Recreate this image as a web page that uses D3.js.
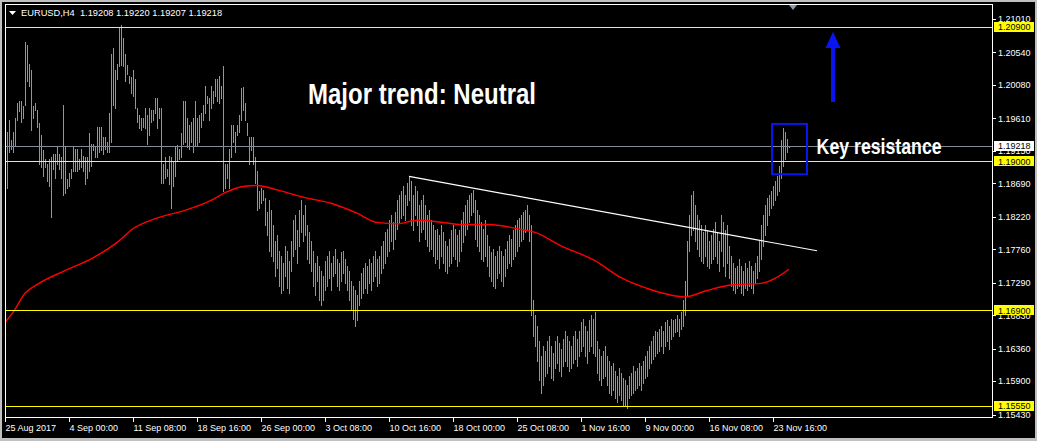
<!DOCTYPE html>
<html><head><meta charset="utf-8">
<script src="https://cdn.jsdelivr.net/npm/d3@7"></script>
<style>
html,body{margin:0;padding:0;background:#c0c0c0;}
svg{display:block;}
text{font-family:"Liberation Sans",Arial,sans-serif;}
</style></head><body>
<svg id="chart" width="1037" height="441"></svg>
<script>
// ---------------- data ----------------
const titleText = "EURUSD,H4  1.19208 1.19220 1.19207 1.19218";
const highs = [
1.1886,1.1941,1.1958,1.1930,1.1941,1.1962,1.1983,1.1985,1.1986,1.1978,
1.2069,1.2065,1.2037,1.2029,1.1978,1.1983,1.1973,1.1954,1.1937,1.1916,
1.1903,1.1897,1.1903,1.1906,1.1911,1.1911,1.1920,1.1911,1.1906,1.1979,
1.1920,1.1875,1.1884,1.1890,1.1920,1.1918,1.1918,1.1904,1.1917,1.1908,
1.1907,1.1906,1.1940,1.1925,1.1924,1.1920,1.1948,1.1948,1.1949,1.1934,
1.1934,1.1927,1.1969,1.2051,1.2060,1.2029,1.2037,1.2089,1.2092,1.2074,
1.2051,1.2036,1.2021,1.2019,1.2029,1.2017,1.1976,1.1965,1.1962,1.1962,
1.1976,1.1965,1.1975,1.1973,1.1972,1.1990,1.1990,1.1976,1.1975,1.1897,
1.1906,1.1890,1.1908,1.1906,1.1899,1.1921,1.1923,1.1918,1.1940,1.1986,
1.1986,1.1961,1.1951,1.1955,1.1962,1.1986,1.1962,1.1965,1.1968,1.1979,
1.2006,1.1993,1.1990,1.2007,1.2000,1.2017,1.2017,1.2021,1.2007,1.2034,
1.1897,1.1896,1.1918,1.1951,1.1951,1.1941,1.1951,1.1965,1.2003,1.2005,
1.1983,1.1954,1.1934,1.1935,1.1934,1.1906,1.1887,1.1859,1.1862,1.1860,
1.1849,1.1828,1.1845,1.1831,1.1810,1.1788,1.1796,1.1774,1.1767,1.1757,
1.1781,1.1774,1.1760,1.1788,1.1817,1.1824,1.1803,1.1831,1.1845,1.1824,
1.1838,1.1810,1.1800,1.1788,1.1774,1.1757,1.1767,1.1753,1.1746,1.1739,
1.1760,1.1767,1.1774,1.1757,1.1767,1.1777,1.1763,1.1757,1.1772,1.1774,
1.1763,1.1753,1.1746,1.1732,1.1725,1.1718,1.1711,1.1732,1.1743,1.1749,
1.1757,1.1753,1.1763,1.1757,1.1767,1.1774,1.1763,1.1767,1.1781,1.1788,
1.1800,1.1805,1.1817,1.1824,1.1814,1.1828,1.1845,1.1852,1.1859,1.1866,
1.1852,1.1870,1.1879,1.1873,1.1852,1.1866,1.1859,1.1838,1.1845,1.1852,
1.1838,1.1824,1.1831,1.1817,1.1810,1.1803,1.1805,1.1796,1.1810,1.1800,
1.1788,1.1781,1.1791,1.1803,1.1810,1.1805,1.1796,1.1803,1.1817,1.1828,
1.1838,1.1845,1.1852,1.1856,1.1860,1.1845,1.1831,1.1824,1.1814,1.1805,
1.1817,1.1796,1.1781,1.1772,1.1777,1.1767,1.1774,1.1781,1.1774,1.1767,
1.1777,1.1788,1.1796,1.1791,1.1803,1.1810,1.1817,1.1820,1.1824,1.1828,
1.1831,1.1838,1.1824,1.1810,1.1704,1.1683,1.1668,1.1647,1.1626,1.1640,
1.1633,1.1647,1.1654,1.1640,1.1630,1.1647,1.1654,1.1644,1.1636,1.1650,
1.1661,1.1654,1.1647,1.1640,1.1654,1.1661,1.1650,1.1661,1.1673,1.1678,
1.1668,1.1661,1.1676,1.1683,1.1678,1.1688,1.1647,1.1636,1.1626,1.1633,
1.1640,1.1626,1.1619,1.1612,1.1616,1.1605,1.1598,1.1608,1.1602,1.1594,
1.1591,1.1584,1.1598,1.1602,1.1612,1.1605,1.1608,1.1616,1.1612,1.1619,
1.1626,1.1633,1.1640,1.1647,1.1654,1.1661,1.1659,1.1664,1.1668,1.1661,
1.1673,1.1676,1.1668,1.1678,1.1676,1.1678,1.1683,1.1678,1.1687,1.1704,
1.1732,1.1788,1.1824,1.1852,1.1859,1.1838,1.1824,1.1817,1.1810,1.1800,
1.1810,1.1803,1.1788,1.1796,1.1805,1.1814,1.1800,1.1788,1.1824,1.1814,
1.1803,1.1810,1.1781,1.1767,1.1757,1.1749,1.1753,1.1763,1.1753,1.1746,
1.1757,1.1749,1.1760,1.1753,1.1746,1.1757,1.1767,1.1788,1.1810,1.1824,
1.1838,1.1848,1.1852,1.1859,1.1866,1.1873,1.1880,1.1894,1.1930,1.1947,
1.1941,1.1932,1.19220
];
const lows = [
1.1781,1.1862,1.1914,1.1918,1.1914,1.1923,1.1958,1.1971,1.1955,1.1962,
1.1979,1.2014,1.2007,1.1945,1.1962,1.1972,1.1948,1.1897,1.1892,1.1880,
1.1892,1.1872,1.1865,1.1821,1.1890,1.1877,1.1897,1.1890,1.1876,1.1853,
1.1855,1.1862,1.1865,1.1876,1.1887,1.1887,1.1886,1.1890,1.1892,1.1887,
1.1868,1.1876,1.1887,1.1894,1.1916,1.1906,1.1907,1.1913,1.1916,1.1911,
1.1918,1.1913,1.1913,1.1927,1.1979,1.1975,1.2017,1.2034,1.2036,1.2034,
1.2014,1.2024,1.2010,1.1997,1.1993,1.1976,1.1955,1.1947,1.1945,1.1948,
1.1947,1.1925,1.1937,1.1955,1.1958,1.1969,1.1947,1.1962,1.1870,1.1870,
1.1877,1.1879,1.1868,1.1835,1.1866,1.1880,1.1901,1.1904,1.1906,1.1925,
1.1927,1.1920,1.1918,1.1927,1.1913,1.1923,1.1923,1.1927,1.1948,1.1958,
1.1968,1.1982,1.1958,1.1976,1.1983,1.1993,1.1986,1.1982,1.1990,1.1859,
1.1863,1.1876,1.1863,1.1906,1.1927,1.1913,1.1937,1.1941,1.1958,1.1972,
1.1958,1.1937,1.1897,1.1916,1.1897,1.1869,1.1831,1.1835,1.1842,1.1845,
1.1810,1.1796,1.1774,1.1767,1.1760,1.1739,1.1749,1.1725,1.1715,1.1718,
1.1739,1.1721,1.1715,1.1746,1.1767,1.1777,1.1757,1.1781,1.1800,1.1788,
1.1796,1.1763,1.1757,1.1746,1.1725,1.1711,1.1732,1.1704,1.1697,1.1704,
1.1718,1.1725,1.1735,1.1718,1.1739,1.1743,1.1725,1.1718,1.1732,1.1743,
1.1729,1.1718,1.1704,1.1690,1.1678,1.1668,1.1676,1.1697,1.1707,1.1715,
1.1721,1.1715,1.1729,1.1718,1.1732,1.1739,1.1725,1.1729,1.1743,1.1749,
1.1757,1.1767,1.1774,1.1788,1.1777,1.1791,1.1805,1.1814,1.1820,1.1824,
1.1817,1.1838,1.1845,1.1810,1.1803,1.1824,1.1810,1.1788,1.1800,1.1805,
1.1791,1.1781,1.1774,1.1777,1.1767,1.1757,1.1763,1.1749,1.1767,1.1757,
1.1746,1.1743,1.1753,1.1757,1.1767,1.1763,1.1753,1.1760,1.1774,1.1786,
1.1796,1.1805,1.1814,1.1824,1.1828,1.1791,1.1781,1.1774,1.1763,1.1760,
1.1767,1.1753,1.1739,1.1732,1.1725,1.1722,1.1735,1.1743,1.1732,1.1725,
1.1739,1.1749,1.1757,1.1753,1.1763,1.1767,1.1774,1.1781,1.1788,1.1791,
1.1800,1.1803,1.1788,1.1683,1.1654,1.1640,1.1619,1.1591,1.1573,1.1584,
1.1598,1.1602,1.1612,1.1594,1.1591,1.1608,1.1616,1.1605,1.1598,1.1612,
1.1619,1.1612,1.1605,1.1608,1.1616,1.1622,1.1612,1.1625,1.1633,1.1640,
1.1626,1.1616,1.1633,1.1640,1.1630,1.1626,1.1602,1.1591,1.1584,1.1594,
1.1598,1.1584,1.1574,1.1570,1.1577,1.1566,1.1560,1.1570,1.1563,1.1556,
1.1557,1.1552,1.1566,1.1570,1.1574,1.1577,1.1580,1.1584,1.1577,1.1588,
1.1594,1.1598,1.1608,1.1616,1.1622,1.1626,1.1630,1.1633,1.1640,1.1630,
1.1640,1.1647,1.1636,1.1650,1.1654,1.1659,1.1661,1.1654,1.1664,1.1668,
1.1683,1.1711,1.1774,1.1796,1.1803,1.1788,1.1777,1.1767,1.1760,1.1757,
1.1767,1.1753,1.1749,1.1757,1.1763,1.1767,1.1757,1.1746,1.1774,1.1753,
1.1739,1.1757,1.1735,1.1725,1.1718,1.1714,1.1721,1.1725,1.1715,1.1711,
1.1721,1.1718,1.1725,1.1721,1.1715,1.1729,1.1735,1.1746,1.1763,1.1781,
1.1796,1.1810,1.1824,1.1834,1.1838,1.1845,1.1852,1.1859,1.1876,1.1894,
1.1904,1.1913,1.19207
];
// moving average: [bar index, value]
const maBar   = [0,4,10,17,30,44,57,63,77,90,103,110,120,126,136,150,163,176,186,196,206,216,229,242,258,265,278,295,308,321,340,351,364,378,392];
const maValue = [1.1673,1.1687,1.1714,1.1728,1.1746,1.1764,1.1788,1.1803,1.1821,1.1831,1.1845,1.1856,1.1865,1.1866,1.1860,1.1849,1.1841,1.1827,1.1814,1.1812,1.1817,1.1815,1.1811,1.1811,1.1804,1.1800,1.1781,1.1760,1.1736,1.1721,1.1709,1.1718,1.1726,1.1728,1.1748];
const priceTicks = [1.21010,1.20540,1.20080,1.19610,1.19150,1.18690,1.18220,1.17760,1.17290,1.16830,1.16360,1.15900,1.15430];
const levelPrices = [1.20900,1.19000,1.16900,1.15550];
const bidPrice = 1.19218;
const timeTickBars = [0,32,64,96,128,160,192,224,256,288,320,352,384];
const timeTickLabels = ["25 Aug 2017","4 Sep 00:00","11 Sep 08:00","18 Sep 16:00","26 Sep 00:00","3 Oct 08:00","10 Oct 16:00","18 Oct 00:00","25 Oct 08:00","1 Nov 16:00","9 Nov 00:00","16 Nov 08:00","23 Nov 16:00"];
const trendBars = [202,406];
const trendPrices = [1.1879,1.1774];
const boxBars = [383.5,401];
const boxPrices = [1.1953,1.1882];
const arrowBar = 414;
const arrowPrices = [1.1984,1.2060,1.2083]; // tail, head base, tip
const headline = "Major trend: Neutral";
const keyText = "Key resistance";

// ---------------- drawing ----------------
const W = 1037, H = 441;
const svg = d3.select("#chart");
const x = d3.scaleLinear().domain([0, 493.5]).range([5, 992]);
const y = d3.scaleLinear().domain([1.15430, 1.21010]).range([414.5, 19]);
const px = v => Math.round(v) + 0.5;

svg.append("rect").attr("width", W).attr("height", H).attr("fill", "#c0c0c0");
svg.append("rect").attr("x", 2).attr("y", 2).attr("width", 1033).attr("height", 436).attr("fill", "#000");

// bars
const bars = d3.range(highs.length).map(i => ({i, h: highs[i], l: lows[i]}));
svg.append("g").attr("shape-rendering", "crispEdges")
  .selectAll("line").data(bars).join("line")
  .attr("x1", d => px(x(d.i))).attr("x2", d => px(x(d.i)))
  .attr("y1", d => Math.round(y(d.h))).attr("y2", d => Math.round(y(d.l)) + 1)
  .attr("stroke", "#28e614").attr("stroke-width", 1);

// moving average
const maData = maBar.map((b, k) => [b, maValue[k]]);
svg.append("path").datum(maData)
  .attr("d", d3.line().x(d => x(d[0])).y(d => y(d[1])).curve(d3.curveMonotoneX))
  .attr("fill", "none").attr("stroke", "#ff0000").attr("stroke-width", 1.4);

// horizontal levels
svg.append("g").attr("shape-rendering", "crispEdges")
  .selectAll("line").data(levelPrices).join("line")
  .attr("x1", 5).attr("x2", 992)
  .attr("y1", d => px(y(d))).attr("y2", d => px(y(d)))
  .attr("stroke", "#ffff00").attr("stroke-width", 1);
// bid line
svg.append("line").attr("shape-rendering", "crispEdges")
  .attr("x1", 5).attr("x2", 992).attr("y1", px(y(bidPrice))).attr("y2", px(y(bidPrice)))
  .attr("stroke", "#7f8c99").attr("stroke-width", 1);

// trend line
svg.append("line")
  .attr("x1", x(trendBars[0])).attr("y1", y(trendPrices[0]))
  .attr("x2", x(trendBars[1])).attr("y2", y(trendPrices[1]))
  .attr("stroke", "#ffffff").attr("stroke-width", 1.2);

// resistance box
svg.append("rect")
  .attr("x", x(boxBars[0])).attr("y", y(boxPrices[0]))
  .attr("width", x(boxBars[1]) - x(boxBars[0])).attr("height", y(boxPrices[1]) - y(boxPrices[0]))
  .attr("fill", "none").attr("stroke", "#0a14f0").attr("stroke-width", 2);

// arrow
const ax = x(arrowBar);
svg.append("line").attr("x1", ax).attr("x2", ax)
  .attr("y1", y(arrowPrices[0])).attr("y2", y(arrowPrices[1]))
  .attr("stroke", "#0a14f0").attr("stroke-width", 4);
svg.append("path")
  .attr("d", `M${ax},${y(arrowPrices[2])} L${ax - 7.5},${y(arrowPrices[1])} L${ax + 7.5},${y(arrowPrices[1])} Z`)
  .attr("fill", "#0a14f0");

// annotation texts
svg.append("text").attr("x", x(151.5)).attr("y", y(1.1981))
  .attr("font-size", 29).attr("font-weight", "bold").attr("fill", "#fff")
  .attr("textLength", 228).attr("lengthAdjust", "spacingAndGlyphs").text(headline);
svg.append("text").attr("x", x(405.8)).attr("y", y(1.1911))
  .attr("font-size", 22).attr("font-weight", "bold").attr("fill", "#fff")
  .attr("textLength", 125).attr("lengthAdjust", "spacingAndGlyphs").text(keyText);

// chart frame
const frame = svg.append("g").attr("shape-rendering", "crispEdges").attr("stroke", "#fff").attr("stroke-width", 1);
frame.append("line").attr("x1", 5).attr("x2", 993).attr("y1", 4.5).attr("y2", 4.5);
frame.append("line").attr("x1", 5.5).attr("x2", 5.5).attr("y1", 4).attr("y2", 418);
frame.append("line").attr("x1", 992.5).attr("x2", 992.5).attr("y1", 4).attr("y2", 418);
frame.append("line").attr("x1", 5).attr("x2", 993).attr("y1", 417.5).attr("y2", 417.5);

// shift marker
svg.append("path").attr("d", "M789,5 L797,5 L793,10 Z").attr("fill", "#8a9aab");

// price axis
const pa = svg.append("g");
pa.selectAll("line").data(priceTicks).join("line").attr("shape-rendering", "crispEdges")
  .attr("x1", 992).attr("x2", 996).attr("y1", d => px(y(d))).attr("y2", d => px(y(d)))
  .attr("stroke", "#fff");
pa.selectAll("text").data(priceTicks).join("text")
  .attr("x", 998).attr("y", d => y(d) + 3.3)
  .attr("font-size", 9).attr("fill", "#fff")
  .text(d => d.toFixed(5));
// highlighted labels
const hl = levelPrices.map(p => ({p, bg: "#ffff00"})).concat([{p: bidPrice, bg: "#ffffff"}]);
const hg = svg.append("g").selectAll("g").data(hl).join("g");
hg.append("rect").attr("x", 994).attr("y", d => Math.round(y(d.p)) - 5.5).attr("width", 40).attr("height", 10)
  .attr("fill", d => d.bg).attr("shape-rendering", "crispEdges");
hg.append("text").attr("x", 998).attr("y", d => y(d.p) + 3.3)
  .attr("font-size", 9).attr("fill", "#000").text(d => d.p.toFixed(5));

// time axis
const ta = svg.append("g");
ta.selectAll("line").data(timeTickBars).join("line").attr("shape-rendering", "crispEdges")
  .attr("x1", d => px(x(d))).attr("x2", d => px(x(d))).attr("y1", 418).attr("y2", 422)
  .attr("stroke", "#fff");
ta.selectAll("text").data(timeTickBars).join("text")
  .attr("x", d => x(d) + 0.5).attr("y", 431)
  .attr("font-size", 9).attr("fill", "#fff")
  .text((d, k) => timeTickLabels[k]);

// title
svg.append("path").attr("d", "M9,11 L16,11 L12.5,15 Z").attr("fill", "#fff");
svg.append("text").attr("x", 21).attr("y", 16).attr("font-size", 9.3).attr("fill", "#fff")
  .attr("xml:space", "preserve").text(titleText);
</script>
</body></html>
